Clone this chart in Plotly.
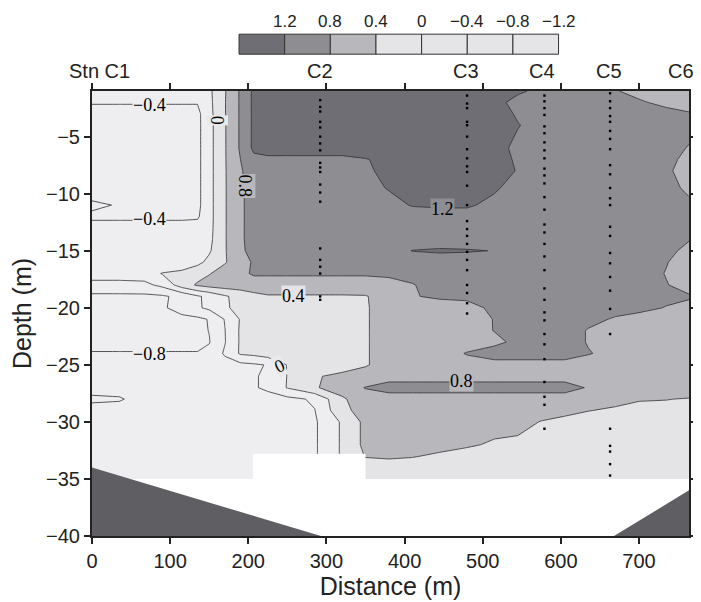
import plotly.graph_objects as go

# ---------------- data ----------------
distance = [0, 35, 67, 90, 115, 135, 150, 170, 190, 207, 225, 250, 285, 320,
            350, 380, 410, 445, 480, 515, 545, 575, 605, 635, 670, 700, 735, 764]

depth = [-1, -2, -3, -4, -6, -7, -8, -9.5, -11, -12, -13, -14, -15, -16, -17,
         -18, -19, -20, -21, -22, -23, -24, -25, -26, -27, -28, -29, -30, -32,
         -33, -34, -35]

# field values (rows follow `depth`, columns follow `distance`)
field = [
    [-0.30, -0.30, -0.30, -0.30, -0.30, -0.25, -0.08, 0.37, 0.85, 1.28, 1.40, 1.40, 1.40, 1.40, 1.40, 1.40, 1.40, 1.40, 1.40, 1.40, 1.30, 1.05, 1.00, 0.95, 0.81, 0.75, 0.70, 0.65],
    [-0.38, -0.38, -0.38, -0.38, -0.38, -0.38, -0.10, 0.38, 0.85, 1.28, 1.40, 1.40, 1.40, 1.40, 1.40, 1.40, 1.40, 1.40, 1.40, 1.40, 1.00, 1.00, 1.00, 0.95, 0.88, 0.82, 0.76, 0.70],
    [-0.50, -0.50, -0.50, -0.50, -0.50, -0.50, -0.12, 0.38, 0.85, 1.28, 1.40, 1.40, 1.40, 1.40, 1.40, 1.40, 1.40, 1.40, 1.40, 1.40, 1.15, 1.00, 1.00, 0.98, 0.92, 0.90, 0.85, 0.82],
    [-0.55, -0.55, -0.55, -0.55, -0.55, -0.50, -0.13, 0.37, 0.85, 1.28, 1.40, 1.40, 1.40, 1.40, 1.40, 1.40, 1.40, 1.40, 1.40, 1.40, 1.22, 1.05, 1.00, 1.00, 0.95, 0.92, 0.88, 0.85],
    [-0.55, -0.55, -0.55, -0.55, -0.55, -0.50, -0.13, 0.37, 0.85, 1.28, 1.40, 1.40, 1.40, 1.40, 1.40, 1.40, 1.40, 1.40, 1.40, 1.35, 1.10, 1.00, 1.00, 1.00, 0.95, 0.92, 0.86, 0.79],
    [-0.55, -0.55, -0.55, -0.55, -0.55, -0.50, -0.13, 0.37, 0.80, 1.10, 1.10, 1.10, 1.10, 1.10, 1.18, 1.30, 1.40, 1.40, 1.40, 1.35, 1.15, 1.00, 1.00, 1.00, 0.97, 0.95, 0.84, 0.76],
    [-0.55, -0.55, -0.55, -0.55, -0.55, -0.50, -0.13, 0.37, 0.75, 1.05, 1.05, 1.05, 1.05, 1.05, 1.17, 1.25, 1.40, 1.40, 1.40, 1.35, 1.18, 1.00, 1.00, 1.00, 0.97, 0.95, 0.82, 0.75],
    [-0.55, -0.55, -0.55, -0.55, -0.55, -0.50, -0.13, 0.37, 0.72, 1.00, 1.00, 1.00, 1.00, 1.00, 1.10, 1.22, 1.35, 1.40, 1.40, 1.25, 1.05, 1.00, 1.00, 1.00, 0.97, 0.95, 0.85, 0.77],
    [-0.35, -0.42, -0.55, -0.55, -0.55, -0.50, -0.13, 0.37, 0.72, 1.00, 1.00, 1.00, 1.00, 1.00, 1.00, 1.10, 1.22, 1.25, 1.25, 1.10, 1.00, 1.00, 1.00, 1.00, 0.97, 0.95, 0.90, 0.83],
    [-0.45, -0.45, -0.45, -0.45, -0.45, -0.45, -0.13, 0.37, 0.72, 1.00, 1.02, 1.02, 1.02, 1.02, 1.02, 1.05, 1.05, 1.05, 1.05, 1.05, 1.00, 1.00, 1.00, 1.00, 0.97, 0.95, 0.92, 0.88],
    [-0.30, -0.30, -0.30, -0.30, -0.30, -0.25, -0.12, 0.37, 0.72, 1.00, 1.02, 1.02, 1.02, 1.02, 1.02, 1.02, 1.02, 1.02, 1.02, 1.02, 1.00, 1.00, 1.00, 1.00, 0.97, 0.95, 0.92, 0.85],
    [-0.30, -0.30, -0.30, -0.30, -0.30, -0.22, -0.10, 0.37, 0.72, 1.00, 1.00, 1.00, 1.00, 1.00, 1.00, 1.00, 1.00, 1.00, 1.00, 1.00, 1.00, 1.00, 1.00, 1.00, 0.97, 0.95, 0.90, 0.81],
    [-0.30, -0.30, -0.30, -0.30, -0.30, -0.20, -0.05, 0.37, 0.70, 0.98, 1.00, 1.00, 1.00, 1.00, 1.00, 1.05, 1.21, 1.25, 1.23, 1.19, 1.00, 1.00, 1.00, 0.98, 0.95, 0.92, 0.85, 0.75],
    [-0.30, -0.30, -0.30, -0.30, -0.30, -0.10, 0.10, 0.37, 0.62, 0.85, 1.00, 1.00, 1.00, 1.00, 1.00, 1.00, 1.00, 1.00, 1.00, 1.00, 1.00, 1.00, 1.00, 0.97, 0.92, 0.88, 0.81, 0.70],
    [-0.30, -0.30, -0.20, 0.02, 0.12, 0.25, 0.38, 0.55, 0.70, 0.85, 0.85, 0.85, 0.85, 0.85, 0.85, 0.88, 0.92, 1.00, 1.00, 1.00, 1.00, 1.00, 1.00, 0.97, 0.94, 0.90, 0.79, 0.68],
    [-0.47, -0.47, -0.50, -0.30, 0.20, 0.45, 0.55, 0.60, 0.60, 0.60, 0.60, 0.60, 0.60, 0.60, 0.60, 0.65, 0.78, 0.95, 1.00, 1.00, 1.00, 1.00, 1.00, 0.97, 0.94, 0.90, 0.81, 0.72],
    [-0.90, -0.90, -0.88, -0.85, -0.70, -0.45, -0.30, -0.05, 0.15, 0.30, 0.37, 0.37, 0.37, 0.37, 0.38, 0.55, 0.78, 0.85, 0.85, 0.90, 1.00, 1.00, 1.00, 0.95, 0.92, 0.88, 0.85, 0.82],
    [-0.90, -0.90, -0.90, -0.85, -0.65, -0.45, -0.32, -0.07, 0.15, 0.25, 0.30, 0.30, 0.30, 0.30, 0.38, 0.50, 0.60, 0.65, 0.72, 0.85, 1.00, 1.00, 1.00, 0.95, 0.90, 0.86, 0.79, 0.75],
    [-0.90, -0.90, -0.90, -0.90, -0.90, -0.88, -0.78, -0.38, 0.03, 0.20, 0.30, 0.30, 0.30, 0.30, 0.38, 0.50, 0.60, 0.62, 0.68, 0.81, 1.00, 1.00, 0.95, 0.88, 0.77, 0.72, 0.70, 0.68],
    [-0.90, -0.90, -0.90, -0.90, -0.90, -0.90, -0.79, -0.41, 0.05, 0.20, 0.30, 0.30, 0.30, 0.30, 0.38, 0.50, 0.58, 0.60, 0.65, 0.81, 0.95, 1.00, 0.95, 0.78, 0.70, 0.68, 0.66, 0.65],
    [-0.90, -0.90, -0.90, -0.90, -0.90, -0.90, -0.82, -0.42, 0.05, 0.20, 0.30, 0.30, 0.30, 0.30, 0.38, 0.50, 0.58, 0.60, 0.65, 0.72, 0.88, 0.95, 0.95, 0.78, 0.70, 0.68, 0.66, 0.65],
    [-0.78, -0.78, -0.78, -0.78, -0.78, -0.78, -0.70, -0.35, 0.05, 0.10, 0.20, 0.30, 0.33, 0.35, 0.37, 0.55, 0.60, 0.65, 0.82, 0.95, 0.95, 0.95, 0.95, 0.82, 0.70, 0.66, 0.65, 0.65],
    [-0.60, -0.60, -0.60, -0.60, -0.60, -0.60, -0.60, -0.55, -0.50, -0.45, -0.38, 0.02, 0.20, 0.30, 0.38, 0.50, 0.62, 0.66, 0.68, 0.68, 0.68, 0.68, 0.68, 0.65, 0.63, 0.62, 0.62, 0.60],
    [-0.60, -0.60, -0.60, -0.60, -0.60, -0.60, -0.60, -0.60, -0.60, -0.45, -0.30, 0.01, 0.38, 0.45, 0.50, 0.70, 0.70, 0.70, 0.70, 0.70, 0.70, 0.70, 0.70, 0.68, 0.62, 0.60, 0.60, 0.60],
    [-0.60, -0.60, -0.60, -0.60, -0.60, -0.60, -0.60, -0.60, -0.60, -0.45, -0.30, 0.02, 0.37, 0.55, 0.82, 0.90, 0.90, 0.90, 0.90, 0.90, 0.90, 0.90, 0.90, 0.78, 0.65, 0.62, 0.60, 0.60],
    [-0.90, -0.85, -0.60, -0.60, -0.60, -0.60, -0.60, -0.60, -0.60, -0.60, -0.60, -0.50, -0.35, 0.35, 0.60, 0.68, 0.68, 0.68, 0.68, 0.68, 0.68, 0.68, 0.68, 0.62, 0.50, 0.42, 0.41, 0.38],
    [-0.60, -0.60, -0.60, -0.60, -0.60, -0.60, -0.60, -0.60, -0.60, -0.60, -0.60, -0.60, -0.41, 0.30, 0.55, 0.60, 0.60, 0.60, 0.60, 0.60, 0.60, 0.60, 0.50, 0.41, 0.35, 0.32, 0.30, 0.30],
    [-0.60, -0.60, -0.60, -0.60, -0.60, -0.60, -0.60, -0.60, -0.60, -0.60, -0.60, -0.60, -0.45, 0.05, 0.50, 0.55, 0.55, 0.55, 0.55, 0.55, 0.55, 0.38, 0.30, 0.25, 0.25, 0.25, 0.25, 0.25],
    [-0.60, -0.60, -0.60, -0.60, -0.60, -0.60, -0.60, -0.60, -0.60, -0.60, -0.60, -0.60, -0.45, 0.05, 0.50, 0.55, 0.55, 0.50, 0.45, 0.35, 0.30, 0.25, 0.25, 0.25, 0.25, 0.25, 0.25, 0.25],
    [-0.60, -0.60, -0.60, -0.60, -0.60, -0.60, -0.60, -0.60, -0.60, -0.60, -0.60, -0.60, -0.45, 0.05, 0.42, 0.45, 0.42, 0.35, 0.25, 0.25, 0.25, 0.25, 0.25, 0.25, 0.25, 0.25, 0.25, 0.25],
    [-0.60, -0.60, -0.60, -0.60, -0.60, -0.60, -0.60, -0.60, -0.60, -0.60, -0.60, -0.60, -0.45, 0.05, 0.25, 0.25, 0.25, 0.25, 0.25, 0.25, 0.25, 0.25, 0.25, 0.25, 0.25, 0.25, 0.25, 0.25],
    [-0.60, -0.60, -0.60, -0.60, -0.60, -0.60, -0.60, -0.60, -0.60, -0.60, -0.60, -0.60, -0.45, 0.05, 0.25, 0.25, 0.25, 0.25, 0.25, 0.25, 0.25, 0.25, 0.25, 0.25, 0.25, 0.25, 0.25, 0.25],
]

level_start, level_end, level_step = -0.8, 1.2, 0.4

# seabed profile (distance, depth) and the no-data patch
seabed_x = [0, 293, 668, 764]
seabed_depth = [-34, -40, -40, -36]
nodata_x = [206, 350]
nodata_depth = [-32.8, -35.0]

# sampling stations and sample depths
stations = ["Stn C1", "C2", "C3", "C4", "C5", "C6"]
station_label_x = [10, 292, 478, 576, 662, 754]
cast_x = {"C2": 292, "C3": 480, "C4": 579, "C5": 663}
cast_depths = {
    "C2": [-1.8, -2.4, -2.8, -3.7, -4.2, -5.0, -5.6, -6.2, -7.3, -7.7, -8.1, -9.2, -9.9, -10.7,
           -14.8, -15.8, -16.4, -17.0, -19.0, -19.3],
    "C3": [-1.4, -2.1, -2.5, -3.7, -4.0, -5.0, -6.1, -6.9, -7.6, -8.1, -9.3, -11.0, -12.4, -13.1,
           -13.7, -14.4, -15.1, -15.8, -16.7, -18.0, -18.7, -19.6, -20.5],
    "C4": [-1.4, -1.9, -2.5, -3.1, -4.1, -4.7, -5.5, -6.2, -6.9, -7.8, -8.4, -9.1, -10.3, -11.4,
           -12.7, -13.4, -14.4, -15.5, -16.7, -18.3, -19.3, -20.4, -21.1, -22.3, -23.2, -24.5,
           -26.5, -27.8, -28.5, -30.6],
    "C5": [-1.2, -1.9, -2.5, -3.2, -3.7, -4.5, -5.2, -6.1, -7.5, -8.3, -9.5, -10.4, -11.0, -12.9,
           -13.7, -15.2, -16.1, -17.3, -18.5, -20.1, -22.3, -30.6, -32.1, -32.6, -33.7, -34.7],
}

# contour labels (text, distance, depth, angle)
label_text = ["\u22120.4", "\u22120.4", "0", "0.8", "1.2", "0.4", "\u22120.8", "0", "0.8"]
label_x = [73, 73, 161, 196, 448, 258, 74, 240, 473]
label_depth = [-2.25, -12.2, -3.6, -9.3, -11.3, -19.0, -24.05, -25.1, -26.45]
label_angle = [0, 0, 90, 90, 0, 0, 0, -25, 0]

legend_labels = ["1.2", "0.8", "0.4", "0", "\u22120.4", "\u22120.8", "\u22121.2"]

# ---------------- styling ----------------
NEG = "#eeeef0"
C0 = "#e4e4e6"
C04 = "#b8b8bc"
C08 = "#8e8d92"
C12 = "#6f6e74"
BED = "#5f5e63"
label_bg = [NEG, NEG, "#e9e9eb", C04, C08, C0, NEG, "#e9e9eb", C04]
legend_colors = [C12, C08, C04, "#e5e5e7", "#e5e5e7", "#e5e5e7", "#e5e5e7"]

# stepped scale: each band colour is flat over a wide interval
colorscale = [[0.0, NEG], [0.38, NEG], [0.38, C0], [0.535, C0], [0.535, C04],
              [0.69, C04], [0.69, C08], [0.845, C08], [0.845, C12], [1.0, C12]]

fig = go.Figure()
fig.add_trace(go.Contour(
    x=distance, y=depth[::-1], z=field[::-1],
    autocontour=False,
    contours=dict(start=level_start, end=level_end, size=level_step,
                  coloring="fill", showlines=True, showlabels=False),
    colorscale=colorscale, showscale=False,
    line=dict(color="#2e2e32", width=0.8, smoothing=0),
    hoverinfo="skip",
))

# no-data patch
fig.add_trace(go.Scatter(
    x=[nodata_x[0], nodata_x[1], nodata_x[1], nodata_x[0]],
    y=[nodata_depth[0], nodata_depth[0], nodata_depth[1], nodata_depth[1]],
    fill="toself", fillcolor="white", mode="lines", line=dict(width=0),
    hoverinfo="skip", showlegend=False))

# seabed
fig.add_trace(go.Scatter(
    x=seabed_x + [seabed_x[-1], seabed_x[0]],
    y=seabed_depth + [-40, -40],
    fill="toself", fillcolor=BED, mode="lines", line=dict(width=0),
    hoverinfo="skip", showlegend=False))

# sample points
for name, xs in cast_x.items():
    d = cast_depths[name]
    fig.add_trace(go.Scatter(
        x=[xs] * len(d), y=d, mode="markers",
        marker=dict(symbol="square", size=2.4, color="black", line=dict(width=0)),
        hoverinfo="skip", showlegend=False))

# contour labels
for t, lx, ld, ang, bg in zip(label_text, label_x, label_depth, label_angle, label_bg):
    fig.add_annotation(x=lx, y=ld, text=t, showarrow=False, textangle=ang,
                       font=dict(family="Liberation Serif", size=18, color="black"),
                       bgcolor=bg, borderpad=0)

# station labels
for s, sx in zip(stations, station_label_x):
    fig.add_annotation(x=sx, y=1, yref="paper", text=s, showarrow=False,
                       yanchor="bottom", yshift=7,
                       font=dict(family="Liberation Sans", size=20, color="#222"))

# legend bar
L0, L1 = 0.2463, 0.7815
ytop, ybot = 1.1277, 1.0827
w = (L1 - L0) / len(legend_colors)
for i, col in enumerate(legend_colors):
    fig.add_shape(type="rect", xref="paper", yref="paper",
                  x0=L0 + i * w, x1=L0 + (i + 1) * w, y0=ybot, y1=ytop,
                  fillcolor=col, line=dict(color="#333", width=1))
for i, lab in enumerate(legend_labels):
    fig.add_annotation(xref="paper", yref="paper", x=L0 + (i + 1) * w, y=1.1554,
                       text=lab, showarrow=False, xanchor="center", yanchor="middle",
                       font=dict(family="Liberation Sans", size=17, color="#222"))

axis_common = dict(showline=True, linecolor="#222", linewidth=2, mirror="ticks",
                   ticks="outside", ticklen=6, tickwidth=1.6, tickcolor="#222",
                   showgrid=False, zeroline=False,
                   tickfont=dict(family="Liberation Sans", size=20, color="#222"))

# the page adds an 8px body margin, so the figure is sized to fit inside it
fig.update_layout(
    width=693, height=592,
    margin=dict(l=84, r=4, t=83, b=60),
    paper_bgcolor="white", plot_bgcolor="white",
    showlegend=False,
    font=dict(family="Liberation Sans", color="#222"),
    xaxis=dict(range=[0, 764], tickvals=[0, 100, 200, 300, 400, 500, 600, 700],
               title=dict(text="Distance (m)", font=dict(size=25), standoff=6),
               **axis_common),
    yaxis=dict(range=[-40, -1], tick0=0, dtick=5,
               title=dict(text="Depth (m)", font=dict(size=25), standoff=8),
               **axis_common),
)

fig.write_html("out.html")
